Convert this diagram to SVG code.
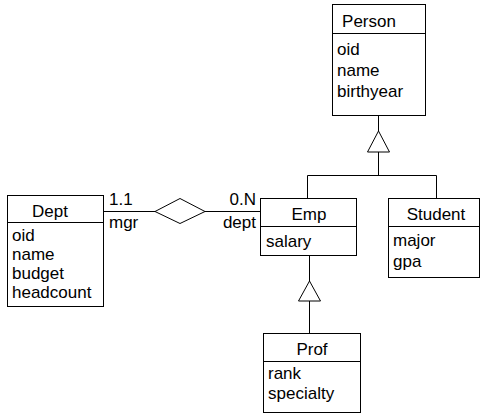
<svg xmlns="http://www.w3.org/2000/svg" width="484" height="416" viewBox="0 0 484 416">
<style>
.box{fill:#fff;stroke:#000;stroke-width:1}
.ln{fill:none;stroke:#000;stroke-width:1}
.t{font-family:"Liberation Sans",Arial,sans-serif;font-size:17px;fill:#000}
.c{text-anchor:middle}
.e{text-anchor:end}
</style>
<rect width="484" height="416" fill="#fff"/>
<g id="connectors">
<path class="ln" d="M378.5 115V131M378.5 152V175.5M307.5 175.5H436.5M307.5 175.5V198M436.5 175.5V198"/>
<polygon class="ln" points="378.5,131 367.5,152 389.5,152"/>
<path class="ln" d="M309.5 255V281M309.5 301V333"/>
<polygon class="ln" points="309.5,281 298.5,301 320.5,301"/>
<path class="ln" d="M103 211.5H155M205 211.5H260"/>
<polygon class="ln" points="155,211.5 180,198.5 205,211.5 180,223.5"/>
<text class="t" x="109" y="205">1.1</text>
<text class="t" x="109" y="228">mgr</text>
<text class="t e" x="256" y="205">0.N</text>
<text class="t e" x="256" y="228">dept</text>
</g>
<g id="person">
<rect class="box" x="332.5" y="4.5" width="93" height="111"/>
<path class="ln" d="M332.5 33.5H425.5"/>
<text class="t c" x="369" y="27">Person</text>
<text class="t" x="337" y="55">oid</text>
<text class="t" x="337" y="76">name</text>
<text class="t" x="337" y="97">birthyear</text>
</g>
<g id="dept">
<rect class="box" x="7.5" y="195.5" width="96" height="111"/>
<path class="ln" d="M7.5 222.5H103.5"/>
<text class="t c" x="50" y="217">Dept</text>
<text class="t" x="12" y="241">oid</text>
<text class="t" x="12" y="260">name</text>
<text class="t" x="12" y="279">budget</text>
<text class="t" x="12" y="298">headcount</text>
</g>
<g id="emp">
<rect class="box" x="260.5" y="198.5" width="96" height="57"/>
<path class="ln" d="M260.5 226.5H356.5"/>
<text class="t c" x="309" y="220">Emp</text>
<text class="t" x="266" y="247">salary</text>
</g>
<g id="student">
<rect class="box" x="388.5" y="198.5" width="91" height="79"/>
<path class="ln" d="M388.5 226.5H479.5"/>
<text class="t c" x="436" y="220">Student</text>
<text class="t" x="393" y="246">major</text>
<text class="t" x="393" y="267">gpa</text>
</g>
<g id="prof">
<rect class="box" x="263.5" y="333.5" width="97" height="79"/>
<path class="ln" d="M263.5 361.5H360.5"/>
<text class="t c" x="312" y="355">Prof</text>
<text class="t" x="268" y="379">rank</text>
<text class="t" x="268" y="399">specialty</text>
</g>
</svg>
